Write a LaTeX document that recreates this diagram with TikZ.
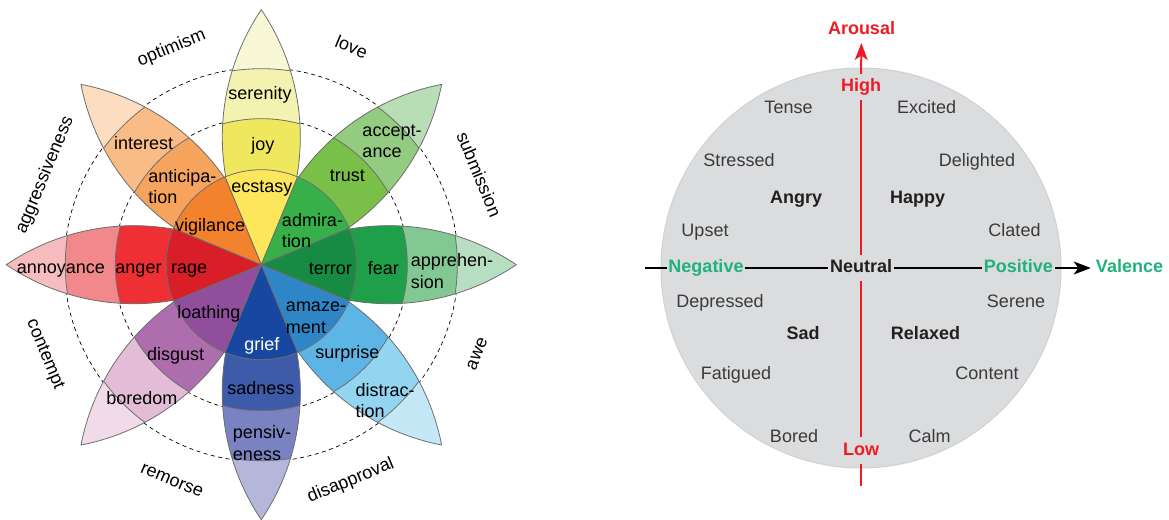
\documentclass[tikz,border=0pt]{standalone}
\usepackage{fontspec}
\setmainfont{Liberation Sans}
\usetikzlibrary{arrows.meta}
% petal colours: tip, outer band, middle band, inner wedge
\definecolor{Ytip}{HTML}{F8F8D6}\definecolor{Yb3}{HTML}{F4F2B0}\definecolor{Yb2}{HTML}{EFE85E}\definecolor{Yb1}{HTML}{FBE65C}
\definecolor{Gtip}{HTML}{B9DEB6}\definecolor{Gb3}{HTML}{93CC80}\definecolor{Gb2}{HTML}{7ABF47}\definecolor{Gb1}{HTML}{37B04A}
\definecolor{Htip}{HTML}{B7DEC1}\definecolor{Hb3}{HTML}{82C892}\definecolor{Hb2}{HTML}{1F9F49}\definecolor{Hb1}{HTML}{178A43}
\definecolor{Ctip}{HTML}{C5E8F7}\definecolor{Cb3}{HTML}{93D4F1}\definecolor{Cb2}{HTML}{5DB5E5}\definecolor{Cb1}{HTML}{2F86C6}
\definecolor{Btip}{HTML}{B4B6DA}\definecolor{Bb3}{HTML}{7A82C1}\definecolor{Bb2}{HTML}{3E5BA9}\definecolor{Bb1}{HTML}{1747A0}
\definecolor{Ptip}{HTML}{F1DBE9}\definecolor{Pb3}{HTML}{E3BDD8}\definecolor{Pb2}{HTML}{AE6EAD}\definecolor{Pb1}{HTML}{904E9C}
\definecolor{Rtip}{HTML}{F6BCC0}\definecolor{Rb3}{HTML}{F0888C}\definecolor{Rb2}{HTML}{EE2F34}\definecolor{Rb1}{HTML}{D81E27}
\definecolor{Otip}{HTML}{FDDDBF}\definecolor{Ob3}{HTML}{FABC87}\definecolor{Ob2}{HTML}{F6A35D}\definecolor{Ob1}{HTML}{F2832C}
\definecolor{edgegray}{HTML}{6E6E6E}
\definecolor{circfill}{HTML}{DBDCDE}
\definecolor{circedge}{HTML}{D0D1D3}
\definecolor{txtgray}{HTML}{3A3A3A}
\definecolor{txtdark}{HTML}{231F20}
\definecolor{axred}{HTML}{ED1C24}
\definecolor{axgreen}{HTML}{21B17A}
\begin{document}
\begin{tikzpicture}[x=1pt,y=1pt,
  lbl/.style={font=\fontsize{18}{21.5}\selectfont, text height=12.9pt, text depth=3.8pt, inner sep=0pt},
  lbltwo/.style={font=\fontsize{18}{21.5}\selectfont, align=left, inner sep=0pt},
  petaledge/.style={draw=edgegray, line width=0.8pt},
  ring/.style={draw=black, line width=0.7pt, dash pattern=on 4pt off 3.5pt},
  word/.style={lbl, text=txtgray},
  bword/.style={lbl, text=txtdark, font=\fontsize{18}{21.5}\selectfont\bfseries},
  axlbl/.style={lbl, font=\fontsize{18}{21.5}\selectfont\bfseries, inner xsep=1.5pt, inner ysep=4.5pt},
  redaxis/.style={draw=axred, line width=2pt},
  blackaxis/.style={draw=black, line width=1.3pt},
  bigtip/.style={-{Stealth[length=17pt,width=13pt,inset=4.5pt]}}
]
\useasboundingbox (0,0) rectangle (1169,519);

% ================= Plutchik wheel =================
\coordinate (C) at (261.3,254.3);
\draw[ring] (C) circle[radius=147];
\draw[ring] (C) circle[radius=197];

\foreach \ang/\ca/\cb/\cc in {90/Ytip/Yb3/Yb2, 45/Gtip/Gb3/Gb2, 0/Htip/Hb3/Hb2, -45/Ctip/Cb3/Cb2,
                              -90/Btip/Bb3/Bb2, -135/Ptip/Pb3/Pb2, 180/Rtip/Rb3/Rb2, 135/Otip/Ob3/Ob2}{
  \begin{scope}[shift={(C)}, rotate=\ang]
    \begin{scope}
      \clip (0,0) arc[start angle=124.02, end angle=55.98, radius=227.91]
                  arc[start angle=-55.98, end angle=-124.02, radius=227.91] -- cycle;
      \fill[\ca] (0,0) circle[radius=260];
      \filldraw[fill=\cb, petaledge] (0,0) circle[radius=196];
      \filldraw[fill=\cc, petaledge] (0,0) circle[radius=146];
    \end{scope}
    \draw[petaledge] (0,0) arc[start angle=124.02, end angle=55.98, radius=227.91]
                  arc[start angle=-55.98, end angle=-124.02, radius=227.91] -- cycle;
  \end{scope}
}
\foreach \ang/\cc in {90/Yb1, 45/Gb1, 0/Hb1, -45/Cb1, -90/Bb1, -135/Pb1, 180/Rb1, 135/Ob1}{
  \filldraw[fill=\cc, petaledge] (C) -- ++(\ang-22.5:95)
     arc[start angle=\ang-22.5, end angle=\ang+22.5, radius=95] -- cycle;
}

% petal labels
\node[lbl] (serenity) at (260,424.4) {serenity};
\node[lbl] (joy) at (262.8,373) {joy};
\node[lbl] (ecstasy) at (261.8,331.5) {ecstasy};
\node[lbltwo] (acceptance) at (392,377.8) {accept-\\ance};
\node[lbl] (trust) at (347.3,341.6) {trust};
\node[lbltwo] (admiration) at (312.5,288.6) {admira-\\tion};
\node[lbl] (terror) at (330.4,248.7) {terror};
\node[lbl] (fear) at (383.4,248.7) {fear};
\node[lbltwo] (apprehension) at (452,248) {apprehen-\\sion};
\node[lbltwo] (amazement) at (316,201.4) {amaze-\\ment};
\node[lbl] (surprise) at (347.3,165) {surprise};
\node[lbltwo] (distraction) at (385,118.2) {distrac-\\tion};
\node[lbltwo] (pensiveness) at (262,75.7) {pensiv-\\eness};
\node[lbl] (sadness) at (260.8,128.8) {sadness};
\node[lbl, text=white] (grief) at (261.8,172.7) {grief};
\node[lbl] (loathing) at (208.8,204.8) {loathing};
\node[lbl] (disgust) at (175.7,162.6) {disgust};
\node[lbl] (boredom) at (141.9,118.7) {boredom};
\node[lbl] (rage) at (189.2,250.4) {rage};
\node[lbl] (anger) at (138.5,250.4) {anger};
\node[lbl] (annoyance) at (60.8,250.4) {annoyance};
\node[lbl] (vigilance) at (210.1,292) {vigilance};
\node[lbltwo] (anticipation) at (182.4,332.4) {anticipa-\\tion};
\node[lbl] (interest) at (143.6,373.7) {interest};

% outer dyad labels
\node[lbl, rotate=22.5] (optimism) at ([shift={(112.5:234)}]C) {optimism};
\node[lbl, rotate=-22.5] (love) at ([shift={(67.5:234)}]C) {love};
\node[lbl, rotate=-67.5] (submission) at ([shift={(22.5:234)}]C) {submission};
\node[lbl, rotate=67.5] (aggressiveness) at ([shift={(157.5:234)}]C) {aggressiveness};
\node[lbl, rotate=67.5] (awe) at ([shift={(-22.5:234)}]C) {awe};
\node[lbl, rotate=22.5] (disapproval) at ([shift={(-67.5:234)}]C) {disapproval};
\node[lbl, rotate=-22.5] (remorse) at ([shift={(-112.5:234)}]C) {remorse};
\node[lbl, rotate=-67.5] (contempt) at ([shift={(-157.5:234)}]C) {contempt};

% ================= Circumplex model =================
\coordinate (V) at (861,251);
\filldraw[fill=circfill, draw=circedge, line width=1pt] (V) circle[radius=200];

\node[word] (tense) at (788.5,410.5) {Tense};
\node[word] (excited) at (926.5,410.5) {Excited};
\node[word] (stressed) at (739,357) {Stressed};
\node[word] (delighted) at (977,357) {Delighted};
\node[bword] (angry) at (796,320.5) {Angry};
\node[bword] (happy) at (917.5,320.5) {Happy};
\node[word] (upset) at (705,287) {Upset};
\node[word] (clated) at (1014.5,287) {Clated};
\node[word] (depressed) at (720,216.5) {Depressed};
\node[word] (serene) at (1016,216.5) {Serene};
\node[bword] (sad) at (803,184.5) {Sad};
\node[bword] (relaxed) at (925.5,184.5) {Relaxed};
\node[word] (fatigued) at (736,144.5) {Fatigued};
\node[word] (content) at (987,144.5) {Content};
\node[word] (bored) at (794,81) {Bored};
\node[word] (calm) at (929.5,81) {Calm};

\node[axlbl, text=axred] (arousal) at (861.5,489) {Arousal};
\node[axlbl, text=axred] (high) at (861,432) {High};
\node[axlbl, text=axred] (low) at (861,68.5) {Low};
\node[axlbl, text=axgreen] (negative) at (706,251) {Negative};
\node[axlbl, text=txtdark] (neutral) at (861,251) {Neutral};
\node[axlbl, text=axgreen] (positive) at (1018.3,251) {Positive};
\node[axlbl, text=axgreen, inner xsep=5pt] (valence) at (1129.5,251) {Valence};

\coordinate (hstart) at (645,251);
\coordinate (vend) at (861,33);

\draw[redaxis, bigtip] (high) -- (arousal);
\draw[redaxis] (high) -- (neutral);
\draw[redaxis] (neutral) -- (low);
\draw[redaxis] (low) -- (vend);

\draw[blackaxis] (hstart) -- (negative);
\draw[blackaxis] (negative) -- (neutral);
\draw[blackaxis] (neutral) -- (positive);
\draw[blackaxis, bigtip] (positive) -- (valence);
\end{tikzpicture}
\end{document}
